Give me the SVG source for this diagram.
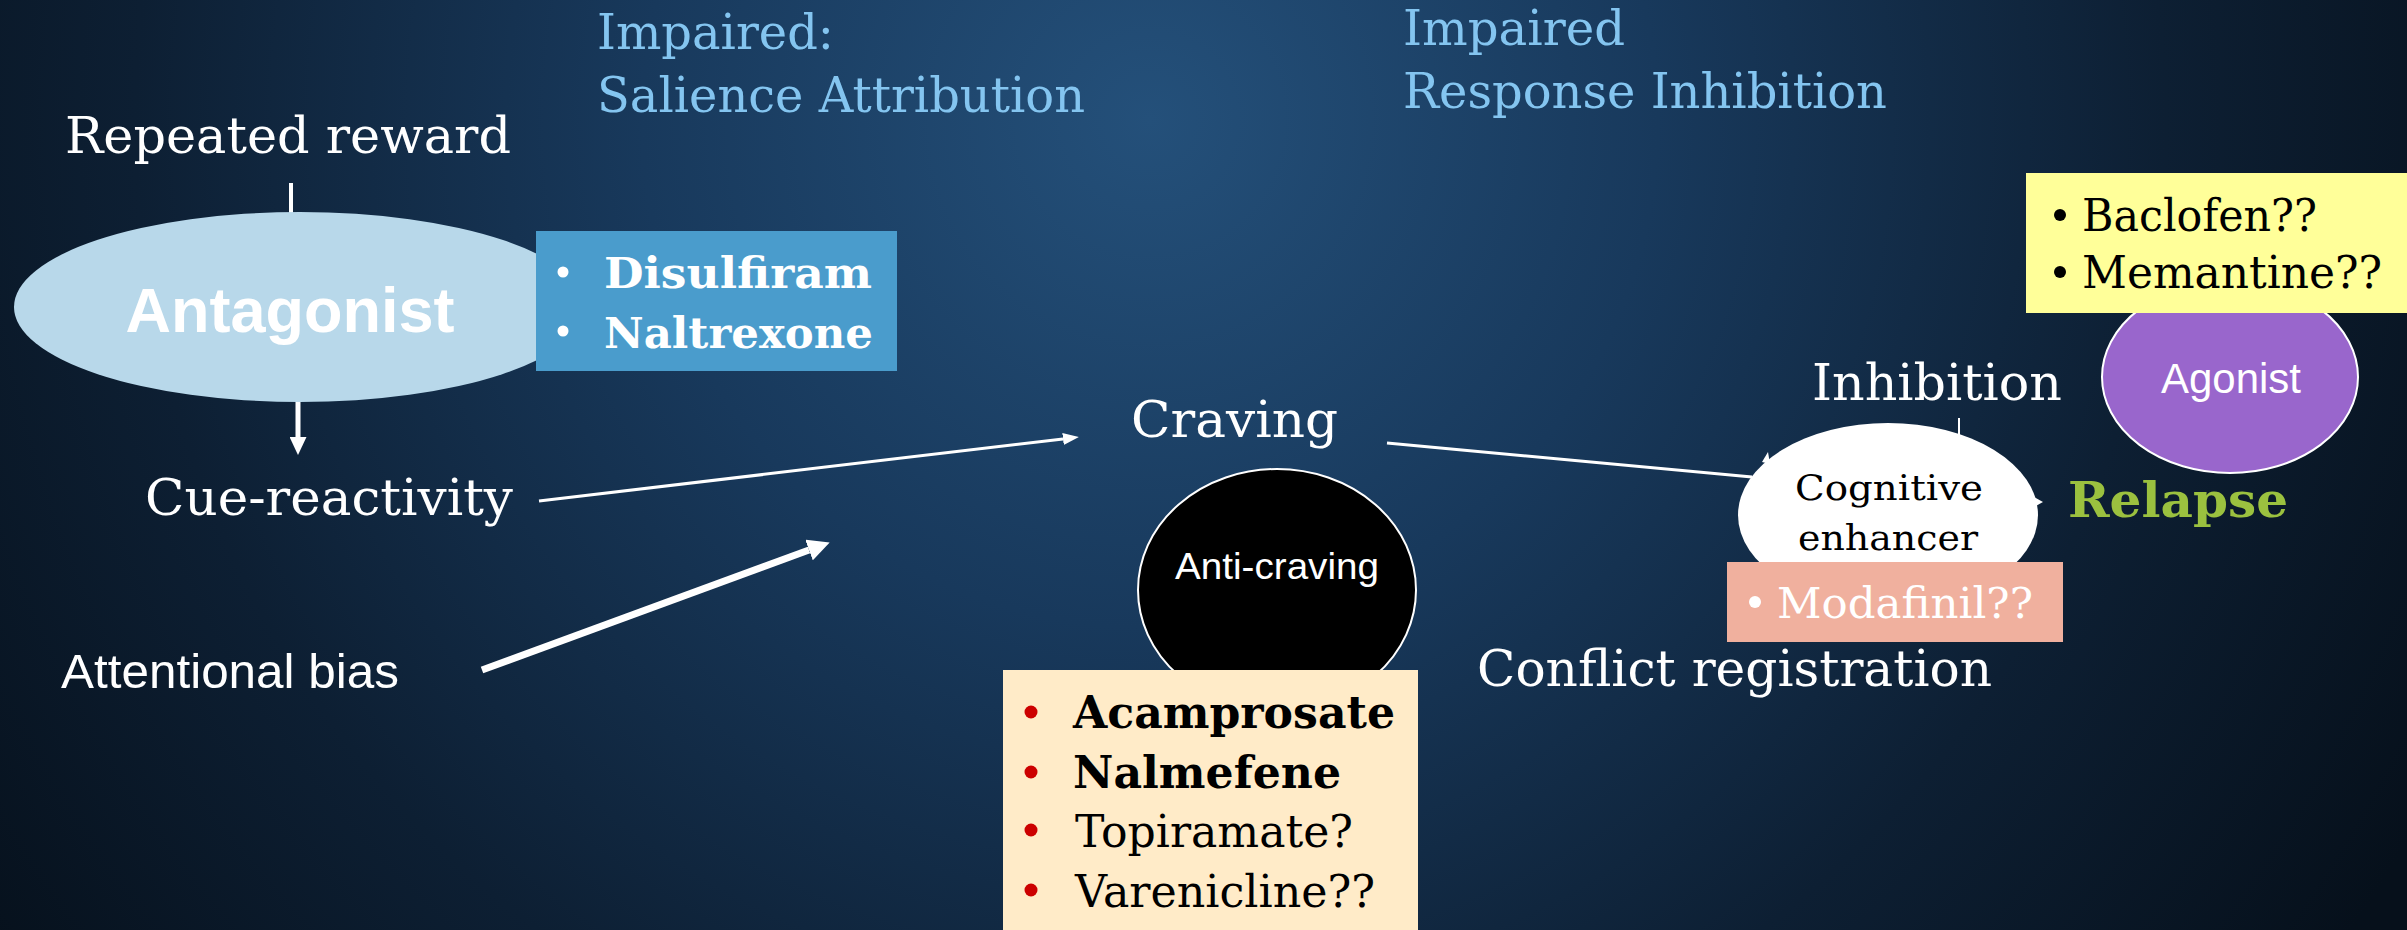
<svg xmlns="http://www.w3.org/2000/svg" width="2407" height="930" viewBox="0 0 2407 930">
<defs>
<radialGradient id="bg" gradientUnits="userSpaceOnUse" cx="1150" cy="120" r="1450">
<stop offset="0" stop-color="#24507a"/>
<stop offset="0.35" stop-color="#18395c"/>
<stop offset="0.7" stop-color="#0d1f33"/>
<stop offset="1" stop-color="#06101b"/>
</radialGradient>
<marker id="ahS" markerUnits="userSpaceOnUse" markerWidth="16" markerHeight="12" refX="0" refY="6" orient="auto"><path d="M0,0 L16,6 L0,12 z" fill="#ffffff"/></marker>
<marker id="ahM" markerUnits="userSpaceOnUse" markerWidth="18" markerHeight="17" refX="0" refY="8.5" orient="auto"><path d="M0,0 L18,8.5 L0,17 z" fill="#ffffff"/></marker>
<marker id="ahL" markerUnits="userSpaceOnUse" markerWidth="22" markerHeight="22" refX="0" refY="11" orient="auto"><path d="M0,0 L22,11 L0,22 z" fill="#ffffff"/></marker>
</defs>
<style>
.slab{font-family:"DejaVu Serif","Liberation Serif",serif;}
.sans{font-family:"Liberation Sans",Arial,sans-serif;}
.wt{fill:#ffffff;}
.bk{fill:#000000;}
.hd{fill:#84c5f0;font-size:49px;}
.lbl{fill:#ffffff;font-size:50px;}
.b{font-weight:bold;}
.conn{stroke:#ffffff;fill:none;}
.rb{fill:#cc0000;}
</style>
<rect x="0" y="0" width="2407" height="930" fill="url(#bg)"/>

<g id="headings">
<text class="slab hd" x="597" y="49" textLength="237" lengthAdjust="spacingAndGlyphs">Impaired:</text>
<text class="slab hd" x="597" y="112" textLength="488" lengthAdjust="spacingAndGlyphs">Salience Attribution</text>
<text class="slab hd" x="1403" y="45" textLength="222" lengthAdjust="spacingAndGlyphs">Impaired</text>
<text class="slab hd" x="1403" y="108" textLength="484" lengthAdjust="spacingAndGlyphs">Response Inhibition</text>
</g>

<g id="connectors">
<line class="conn" x1="291" y1="183" x2="291" y2="214" stroke-width="4"/>
<line class="conn" x1="298" y1="400" x2="298" y2="437" stroke-width="5" marker-end="url(#ahM)"/>
<line class="conn" x1="539" y1="501" x2="1063" y2="439" stroke-width="3" marker-end="url(#ahS)"/>
<line class="conn" x1="482" y1="670" x2="809" y2="550" stroke-width="7" marker-end="url(#ahL)"/>
<line class="conn" x1="1387" y1="443" x2="1752" y2="477" stroke-width="3"/>
<line class="conn" x1="1959" y1="418" x2="1959" y2="440" stroke-width="2"/>
<path d="M2034,497 L2043,502 L2034,507 z" fill="#ffffff"/>
</g>

<g id="repeated-reward">
<text class="slab lbl" x="65" y="153" textLength="446" lengthAdjust="spacingAndGlyphs">Repeated reward</text>
</g>

<g id="antagonist">
<ellipse cx="300" cy="307" rx="286" ry="95" fill="#b8d8ea"/>
<text class="sans b wt" x="290" y="332" font-size="63" text-anchor="middle" textLength="329" lengthAdjust="spacingAndGlyphs">Antagonist</text>
</g>

<g id="antagonist-drugs">
<rect x="536" y="231" width="361" height="140" fill="#4a9ccc"/>
<circle cx="563" cy="272" r="5.5" fill="#ffffff"/>
<circle cx="563" cy="331" r="5.5" fill="#ffffff"/>
<text class="slab b wt" x="604" y="288" font-size="43" textLength="268" lengthAdjust="spacingAndGlyphs">Disulfiram</text>
<text class="slab b wt" x="604" y="348" font-size="43" textLength="269" lengthAdjust="spacingAndGlyphs">Naltrexone</text>
</g>

<g id="cue-reactivity">
<text class="slab lbl" x="145" y="515" font-size="52" textLength="368" lengthAdjust="spacingAndGlyphs">Cue-reactivity</text>
</g>

<g id="attentional-bias">
<text class="sans wt" x="61" y="688" font-size="49" textLength="338" lengthAdjust="spacingAndGlyphs">Attentional bias</text>
</g>

<g id="craving">
<text class="slab lbl" x="1131" y="437" font-size="52" textLength="207" lengthAdjust="spacingAndGlyphs">Craving</text>
</g>

<g id="anti-craving">
<ellipse cx="1277" cy="590" rx="139" ry="121" fill="#000000" stroke="#ffffff" stroke-width="2"/>
<text class="sans wt" x="1277" y="579" font-size="37" text-anchor="middle" textLength="204" lengthAdjust="spacingAndGlyphs">Anti-craving</text>
</g>

<g id="anti-craving-drugs">
<rect x="1003" y="670" width="415" height="270" fill="#ffebc8"/>
<circle class="rb" cx="1031" cy="712" r="6.5"/>
<circle class="rb" cx="1031" cy="772" r="6.5"/>
<circle class="rb" cx="1031" cy="830" r="6.5"/>
<circle class="rb" cx="1031" cy="890" r="6.5"/>
<text class="slab b bk" x="1073" y="728" font-size="44" textLength="322" lengthAdjust="spacingAndGlyphs">Acamprosate</text>
<text class="slab b bk" x="1073" y="788" font-size="44" textLength="268" lengthAdjust="spacingAndGlyphs">Nalmefene</text>
<text class="slab bk" x="1075" y="847" font-size="44" textLength="278" lengthAdjust="spacingAndGlyphs">Topiramate?</text>
<text class="slab bk" x="1075" y="907" font-size="44" textLength="300" lengthAdjust="spacingAndGlyphs">Varenicline??</text>
</g>

<g id="inhibition">
<text class="slab lbl" x="1812" y="400" font-size="48" textLength="250" lengthAdjust="spacingAndGlyphs">Inhibition</text>
</g>

<g id="cognitive-enhancer">
<ellipse cx="1888" cy="515" rx="150" ry="92" fill="#ffffff"/>
<path d="M1762,462 L1768,452 L1770,464 z" fill="#ffffff"/>
<text class="slab bk" x="1889" y="500" font-size="36" text-anchor="middle" textLength="188" lengthAdjust="spacingAndGlyphs">Cognitive</text>
<text class="slab bk" x="1888" y="550" font-size="36" text-anchor="middle" textLength="180" lengthAdjust="spacingAndGlyphs">enhancer</text>
</g>

<g id="modafinil">
<rect x="1727" y="562" width="336" height="80" fill="#f0b09e"/>
<circle cx="1755" cy="602" r="6" fill="#ffffff"/>
<text class="slab wt" x="1777" y="618" font-size="43" textLength="256" lengthAdjust="spacingAndGlyphs">Modafinil??</text>
</g>

<g id="conflict-registration">
<text class="slab lbl" x="1477" y="686" font-size="49" textLength="515" lengthAdjust="spacingAndGlyphs">Conflict registration</text>
</g>

<g id="agonist">
<ellipse cx="2230" cy="377" rx="128" ry="96" fill="#9966cc" stroke="#ffffff" stroke-width="2"/>
<text class="sans wt" x="2231" y="393" font-size="42" text-anchor="middle" textLength="140" lengthAdjust="spacingAndGlyphs">Agonist</text>
</g>

<g id="agonist-drugs">
<rect x="2026" y="173" width="381" height="140" fill="#ffff99"/>
<circle cx="2060" cy="215" r="6" fill="#000000"/>
<circle cx="2060" cy="272" r="6" fill="#000000"/>
<text class="slab bk" x="2082" y="231" font-size="44" textLength="235" lengthAdjust="spacingAndGlyphs">Baclofen??</text>
<text class="slab bk" x="2082" y="288" font-size="44" textLength="300" lengthAdjust="spacingAndGlyphs">Memantine??</text>
</g>

<g id="relapse">
<text class="slab b" x="2068" y="517" font-size="48" fill="#9bc13f" textLength="220" lengthAdjust="spacingAndGlyphs">Relapse</text>
</g>
</svg>
